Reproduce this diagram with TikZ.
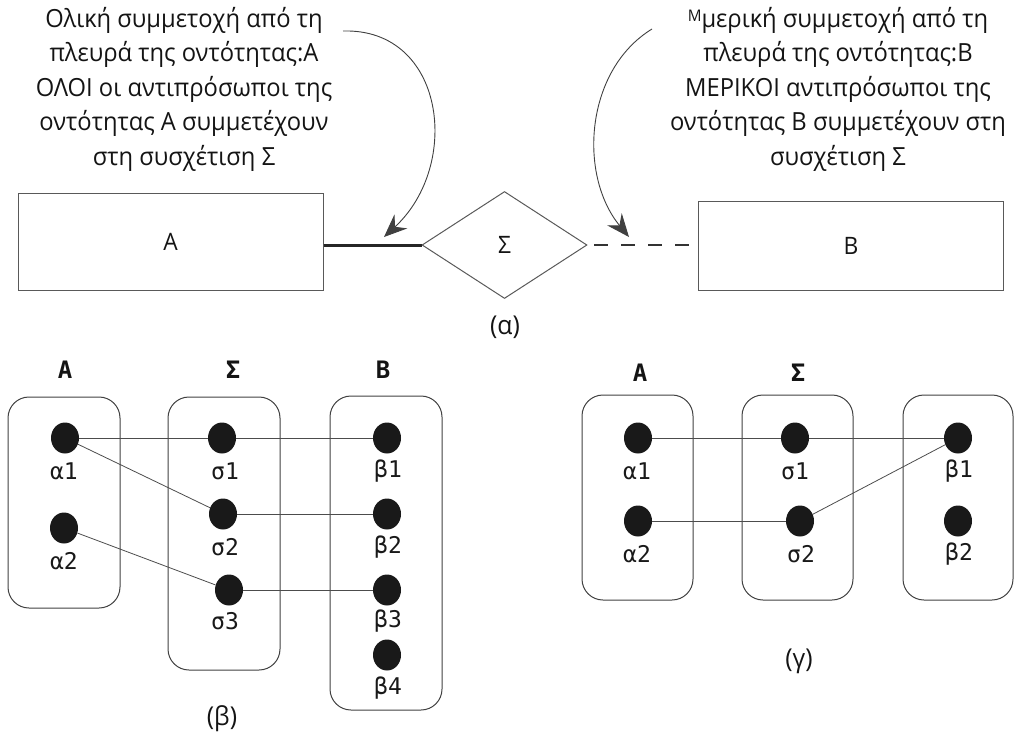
\documentclass[tikz,border=0pt]{standalone}
\usepackage{fontspec}
\setmainfont{Open Sans}[FakeStretch=0.95]
\newfontfamily\lblfont{DejaVu Sans Mono}
\usetikzlibrary{arrows.meta,shapes.geometric}
\begin{document}
\begin{tikzpicture}[x=1pt,y=-1pt,
  note/.style={align=center,font=\fontsize{25}{34.5}\selectfont,text=black!92},
  entity/.style={draw=black!65,line width=1pt,inner sep=0pt},
  relbox/.style={draw=black!65,line width=1pt,diamond,aspect=1.55,inner sep=0pt,minimum width=165pt,minimum height=107pt},
  setbox/.style={draw=black!75,line width=1pt,rounded corners=21pt,inner sep=0pt},
  dot/.style={ellipse,fill=black!90,minimum width=28pt,minimum height=31pt,inner sep=0pt},
  lbl/.style={font=\lblfont\fontsize{23}{23}\selectfont,text=black!90},
  head/.style={font=\lblfont\bfseries\fontsize{24}{24}\selectfont,text=black!92},
  figcap/.style={font=\fontsize{26}{26}\selectfont,text=black!92},
  inlabel/.style={font=\fontsize{24}{24}\selectfont,text=black!92},
  link/.style={draw=black!70,line width=0.8pt},
  callout/.style={draw=black!75,line width=0.9pt,-{Stealth[length=23pt,width=19pt,inset=8pt]}}]
\useasboundingbox (0,0) rectangle (1018,737);

% ---- (a) ER diagram with notes ----
\node[note] (ta) at (184,89) {Ολική συμμετοχή από τη\\πλευρά της οντότητας:Α\\ΟΛΟΙ οι αντιπρόσωποι της\\οντότητας Α συμμετέχουν\\στη συσχέτιση Σ};
\node[note] (tb) at (838,89) {\raisebox{0.45ex}{\fontsize{16}{16}\selectfont Μ}μερική συμμετοχή από τη\\πλευρά της οντότητας:Β\\ΜΕΡΙΚΟΙ αντιπρόσωποι της\\οντότητας Β συμμετέχουν στη\\συσχέτιση Σ};

\node[entity,minimum width=305pt,minimum height=97pt] (A) at (170.5,241.5) {};
\node[inlabel] (Alab) at (A) {Α};
\node[entity,minimum width=305pt,minimum height=89pt] (B) at (851,245.5) {};
\node[inlabel] (Blab) at (B) {Β};
\node[relbox] (S) at (504.5,245) {};
\node[inlabel] (Slab) at (S) {Σ};

\draw[line width=3pt,black!85] (A.east |- S.west) -- (S.west);
\coordinate (dstart) at (594,245);
\draw[line width=2.6pt,black!80,dash pattern=on 14pt off 13pt] (dstart) -- (B.west |- S.east);

\coordinate (ca0) at (343,31);
\coordinate (ca1) at (384,237);
\draw[callout] (ca0) .. controls (445,28) and (462,165) .. (ca1);
\coordinate (cb0) at (652,29);
\coordinate (cb1) at (629,237);
\draw[callout] (cb0) .. controls (585,70) and (578,175) .. (cb1);

\node[figcap] (capa) at (505,327) {(α)};

% ---- (b) instance diagram ----
\node[head] (hA) at (65,370) {Α};
\node[head] (hS) at (233,370) {Σ};
\node[head] (hB) at (383,370) {Β};

\node[setbox,minimum width=112pt,minimum height=211pt] (bA) at (64,502.5) {};
\node[setbox,minimum width=112pt,minimum height=273pt] (bS) at (224,533.5) {};
\node[setbox,minimum width=112pt,minimum height=314pt] (bB) at (386,553) {};

\node[dot] (a1) at (65,438) {};
\node[dot] (a2) at (64,528) {};
\node[dot] (s1) at (222,438) {};
\node[dot] (s2) at (223,514) {};
\node[dot] (s3) at (229,590) {};
\node[dot] (b1) at (387,438) {};
\node[dot] (b2) at (387,514) {};
\node[dot] (b3) at (387,590) {};
\node[dot] (b4) at (387,655) {};

\node[lbl] (la1) at (64,471) {α1};
\node[lbl] (la2) at (64,561) {α2};
\node[lbl] (ls1) at (225,471) {σ1};
\node[lbl] (ls2) at (225,547) {σ2};
\node[lbl] (ls3) at (225,621) {σ3};
\node[lbl] (lb1) at (388,471) {β1};
\node[lbl] (lb2) at (388,547) {β2};
\node[lbl] (lb3) at (388,621) {β3};
\node[lbl] (lb4) at (388,688) {β4};

\draw[link] (a1) -- (s1) -- (b1);
\draw[link] (a1) -- (s2);
\draw[link] (s2) -- (b2);
\draw[link] (a2) -- (s3);
\draw[link] (s3) -- (b3);

\node[figcap] (capb) at (222,719) {(β)};

% ---- (c) instance diagram ----
\node[head] (gA) at (640,373) {Α};
\node[head] (gS) at (798,373) {Σ};

\node[setbox,minimum width=111pt,minimum height=205pt] (gbA) at (637.5,497.5) {};
\node[setbox,minimum width=111pt,minimum height=205pt] (gbS) at (797.5,497.5) {};
\node[setbox,minimum width=110pt,minimum height=205pt] (gbB) at (958,497.5) {};

\node[dot] (g1) at (638,438) {};
\node[dot] (g2) at (638,521) {};
\node[dot] (h1) at (795,438) {};
\node[dot] (h2) at (800,521) {};
\node[dot] (k1) at (958,438) {};
\node[dot] (k2) at (958,521) {};

\node[lbl] (lg1) at (637,471) {α1};
\node[lbl] (lg2) at (637,554) {α2};
\node[lbl] (lh1) at (795,471) {σ1};
\node[lbl] (lh2) at (801,554) {σ2};
\node[lbl] (lk1) at (959,471) {β1};
\node[lbl] (lk2) at (959,554) {β2};

\draw[link] (g1) -- (h1) -- (k1);
\draw[link] (g2) -- (h2);
\draw[link] (h2) -- (k1);

\node[figcap] (capc) at (799,661) {(γ)};
\end{tikzpicture}
\end{document}
